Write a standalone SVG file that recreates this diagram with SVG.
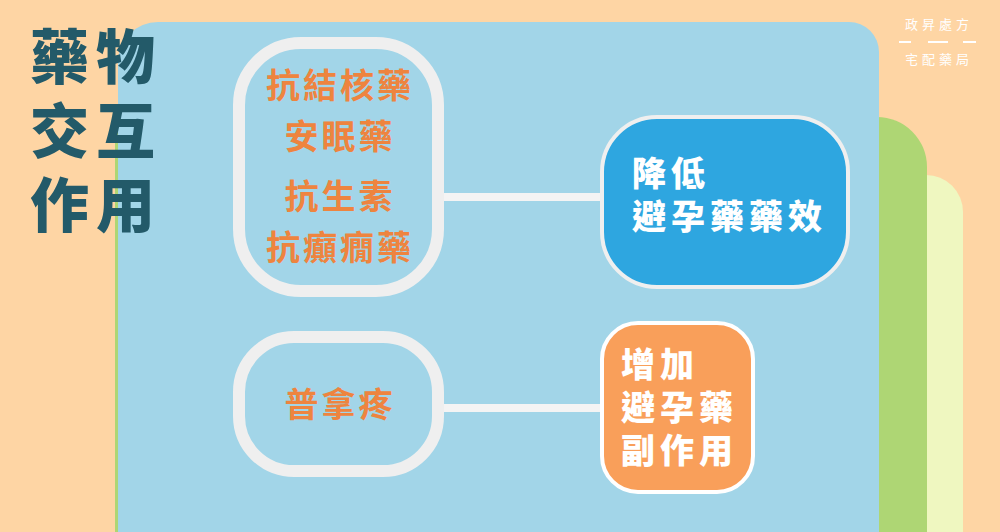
<svg xmlns="http://www.w3.org/2000/svg" width="1000" height="532" viewBox="0 0 1000 532">
<style>
.title{font-family:"Noto Sans CJK TC","Noto Sans CJK SC",sans-serif;font-weight:900;font-size:59px;fill:#235A69;letter-spacing:7px}
.logo{font-family:"Noto Sans CJK TC",sans-serif;font-size:13px;fill:#FFFFFF;letter-spacing:4px}
.lnode{fill:none;stroke:#EFEFEF;stroke-width:12}
.ltext{font-family:"Noto Sans CJK TC",sans-serif;font-weight:700;font-size:34px;fill:#EE843F;text-anchor:middle;letter-spacing:3px}
.rtext{font-family:"Noto Sans CJK TC",sans-serif;font-weight:900;font-size:34px;fill:#FFFFFF;letter-spacing:5px}
.conn{stroke:#F4F4F4;stroke-width:8}
</style>
<rect x="0" y="0" width="1000" height="532" fill="#FED5A4"/>
<path d="M115 532 V175 H926 A37 37 0 0 1 963 212 V532 Z" fill="#EFF7C0"/>
<path d="M115 532 V117 H877 A50 50 0 0 1 927 167 V532 Z" fill="#AED674"/>
<path d="M118 532 V62 A40 40 0 0 1 158 22 H849 A30 30 0 0 1 879 52 V532 Z" fill="#A2D5E8"/>
<g id="title">
<text class="title" x="30" y="79">藥物</text>
<text class="title" x="30" y="153">交互</text>
<text class="title" x="30" y="227">作用</text>
</g>
<g id="logo">
<text class="logo" x="905" y="29">政昇處方</text>
<line x1="899" y1="42" x2="911" y2="42" stroke="#fff" stroke-width="2"/>
<line x1="928" y1="42" x2="948" y2="42" stroke="#fff" stroke-width="2"/>
<line x1="963" y1="42" x2="976" y2="42" stroke="#fff" stroke-width="2"/>
<text class="logo" x="905" y="64">宅配藥局</text>
</g>
<g id="connectors">
<line class="conn" x1="444" y1="197" x2="602" y2="197"/>
<line class="conn" x1="444" y1="408" x2="602" y2="408"/>
</g>
<g id="node-drugs1">
<rect class="lnode" x="239" y="43" width="199" height="248" rx="62"/>
<text class="ltext" x="340" y="98">抗結核藥</text>
<text class="ltext" x="340" y="149">安眠藥</text>
<text class="ltext" x="340" y="209">抗生素</text>
<text class="ltext" x="340" y="260">抗癲癇藥</text>
</g>
<g id="node-drugs2">
<rect class="lnode" x="239" y="337" width="199" height="134" rx="55"/>
<text class="ltext" x="340" y="417">普拿疼</text>
</g>
<g id="node-reduce">
<rect x="602" y="117" width="246" height="170" rx="55" fill="#2EA6E0" stroke="#EFEFEF" stroke-width="4"/>
<text class="rtext" x="632" y="186">降低</text>
<text class="rtext" x="632" y="229">避孕藥藥效</text>
</g>
<g id="node-increase">
<rect x="602" y="323" width="151" height="169" rx="36" fill="#F99F5A" stroke="#FFFFFF" stroke-width="4"/>
<text class="rtext" x="621" y="377">增加</text>
<text class="rtext" x="621" y="420">避孕藥</text>
<text class="rtext" x="621" y="463">副作用</text>
</g>
</svg>
